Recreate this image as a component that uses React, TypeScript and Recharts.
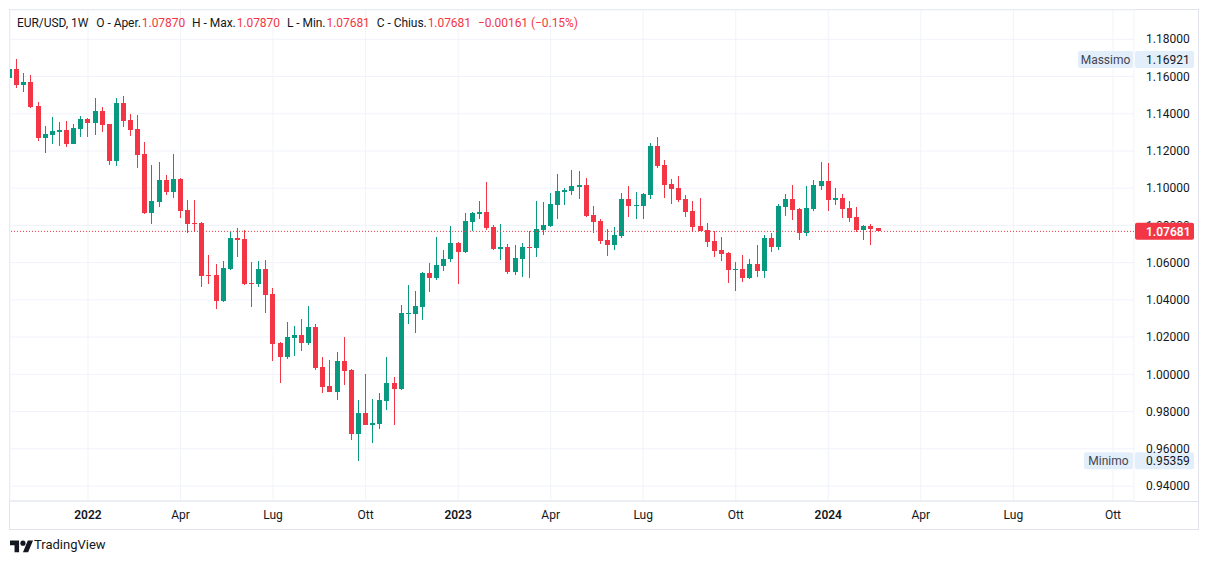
import React from 'react';
import { ComposedChart, Bar, XAxis, YAxis, CartesianGrid, ReferenceLine } from 'recharts';

// Weekly candles EUR/USD, week start (Monday)
const weekStart = [
  '2021-10-18', '2021-10-25', '2021-11-01', '2021-11-08', '2021-11-15', '2021-11-22', '2021-11-29', '2021-12-06', '2021-12-13', '2021-12-20',
  '2021-12-27', '2022-01-03', '2022-01-10', '2022-01-17', '2022-01-24', '2022-01-31', '2022-02-07', '2022-02-14', '2022-02-21', '2022-02-28',
  '2022-03-07', '2022-03-14', '2022-03-21', '2022-03-28', '2022-04-04', '2022-04-11', '2022-04-18', '2022-04-25', '2022-05-02', '2022-05-09',
  '2022-05-16', '2022-05-23', '2022-05-30', '2022-06-06', '2022-06-13', '2022-06-20', '2022-06-27', '2022-07-04', '2022-07-11', '2022-07-18',
  '2022-07-25', '2022-08-01', '2022-08-08', '2022-08-15', '2022-08-22', '2022-08-29', '2022-09-05', '2022-09-12', '2022-09-19', '2022-09-26',
  '2022-10-03', '2022-10-10', '2022-10-17', '2022-10-24', '2022-10-31', '2022-11-07', '2022-11-14', '2022-11-21', '2022-11-28', '2022-12-05',
  '2022-12-12', '2022-12-19', '2022-12-26', '2023-01-02', '2023-01-09', '2023-01-16', '2023-01-23', '2023-01-30', '2023-02-06', '2023-02-13',
  '2023-02-20', '2023-02-27', '2023-03-06', '2023-03-13', '2023-03-20', '2023-03-27', '2023-04-03', '2023-04-10', '2023-04-17', '2023-04-24',
  '2023-05-01', '2023-05-08', '2023-05-15', '2023-05-22', '2023-05-29', '2023-06-05', '2023-06-12', '2023-06-19', '2023-06-26', '2023-07-03',
  '2023-07-10', '2023-07-17', '2023-07-24', '2023-07-31', '2023-08-07', '2023-08-14', '2023-08-21', '2023-08-28', '2023-09-04', '2023-09-11',
  '2023-09-18', '2023-09-25', '2023-10-02', '2023-10-09', '2023-10-16', '2023-10-23', '2023-10-30', '2023-11-06', '2023-11-13', '2023-11-20',
  '2023-11-27', '2023-12-04', '2023-12-11', '2023-12-18', '2023-12-25', '2024-01-01', '2024-01-08', '2024-01-15', '2024-01-22', '2024-01-29',
  '2024-02-05', '2024-02-12', '2024-02-19',
];

const open = [
  1.1592, 1.1639, 1.1555, 1.1569, 1.1440, 1.1270, 1.1286, 1.1302, 1.1311, 1.1238,
  1.1318, 1.1370, 1.1351, 1.1413, 1.1344, 1.1147, 1.1456, 1.1365, 1.1317, 1.1183,
  1.0867, 1.0926, 1.1043, 1.0980, 1.1048, 1.0882, 1.0812, 1.0814, 1.0535, 1.0533,
  1.0395, 1.0567, 1.0732, 1.0726, 1.0492, 1.0486, 1.0567, 1.0433, 1.0169, 1.0094,
  1.0196, 1.0211, 1.0169, 1.0254, 1.0039, 0.9937, 0.9906, 1.0071, 1.0023, 0.9681,
  0.9790, 0.9729, 0.9735, 0.9858, 0.9953, 0.9922, 1.0325, 1.0325, 1.0363, 1.0545,
  1.0518, 1.0581, 1.0619, 1.0705, 1.0656, 1.0819, 1.0862, 1.0871, 1.0791, 1.0674,
  1.0683, 1.0551, 1.0620, 1.0683, 1.0679, 1.0776, 1.0798, 1.0910, 1.0980, 1.0984,
  1.1007, 1.1018, 1.0857, 1.0824, 1.0722, 1.0696, 1.0744, 1.0941, 1.0905, 1.0905,
  1.0964, 1.1226, 1.1125, 1.1023, 1.1002, 1.0941, 1.0877, 1.0796, 1.0775, 1.0717,
  1.0669, 1.0653, 1.0561, 1.0567, 1.0518, 1.0594, 1.0556, 1.0733, 1.0685, 1.0900,
  1.0941, 1.0887, 1.0760, 1.0889, 1.1014, 1.1038, 1.0937, 1.0948, 1.0894, 1.0846,
  1.0776, 1.0798, 1.0787,
];

const high = [
  1.1669, 1.16921, 1.1617, 1.1607, 1.1462, 1.1333, 1.1381, 1.1356, 1.1361, 1.1344,
  1.1388, 1.1376, 1.1483, 1.1435, 1.1346, 1.1483, 1.1494, 1.1397, 1.1392, 1.1249,
  1.1124, 1.1140, 1.1070, 1.1183, 1.1053, 1.0936, 1.0936, 1.0816, 1.0640, 1.0592,
  1.0608, 1.0764, 1.0785, 1.0774, 1.0604, 1.0610, 1.0615, 1.0465, 1.0175, 1.0282,
  1.0261, 1.0297, 1.0366, 1.0270, 1.0093, 1.0078, 1.0121, 1.0200, 1.0030, 0.9862,
  1.0001, 0.9869, 0.9901, 1.0093, 0.9985, 1.0372, 1.0479, 1.0447, 1.0548, 1.0596,
  1.0737, 1.0669, 1.0796, 1.0712, 1.0866, 1.0871, 1.0930, 1.1032, 1.0801, 1.0807,
  1.0701, 1.0694, 1.0705, 1.0769, 1.0930, 1.0925, 1.0973, 1.1075, 1.0999, 1.1097,
  1.1091, 1.1054, 1.0903, 1.0835, 1.0781, 1.0792, 1.0975, 1.1012, 1.0980, 1.0975,
  1.1243, 1.1275, 1.1152, 1.1050, 1.1066, 1.0964, 1.0932, 1.0946, 1.0812, 1.0771,
  1.0737, 1.0658, 1.0604, 1.0642, 1.0620, 1.0696, 1.0749, 1.0760, 1.0916, 1.0969,
  1.1016, 1.0894, 1.1012, 1.1045, 1.1141, 1.1136, 1.1002, 1.0969, 1.0932, 1.0900,
  1.0800, 1.0807, 1.0787,
];

const low = [
  1.1570, 1.1538, 1.1515, 1.1432, 1.1254, 1.1190, 1.1238, 1.1227, 1.1222, 1.1236,
  1.1275, 1.1275, 1.1286, 1.1302, 1.1125, 1.1121, 1.1329, 1.1281, 1.1109, 1.0862,
  1.0808, 1.0900, 1.0966, 1.0948, 1.0841, 1.0760, 1.0765, 1.0470, 1.0485, 1.0352,
  1.0390, 1.0562, 1.0631, 1.0480, 1.0363, 1.0470, 1.0330, 1.0073, 0.9955, 1.0083,
  1.0100, 1.0126, 1.0159, 1.0024, 0.9901, 0.9904, 0.9863, 0.9944, 0.9649, 0.95359,
  0.9727, 0.9633, 0.9708, 0.9810, 0.9729, 0.9917, 1.0271, 1.0223, 1.0293, 1.0443,
  1.0508, 1.0556, 1.0604, 1.0485, 1.0651, 1.0769, 1.0835, 1.0776, 1.0669, 1.0615,
  1.0540, 1.0535, 1.0524, 1.0518, 1.0631, 1.0749, 1.0792, 1.0835, 1.0909, 1.0966,
  1.0943, 1.0846, 1.0760, 1.0701, 1.0637, 1.0669, 1.0733, 1.0846, 1.0835, 1.0835,
  1.0943, 1.1109, 1.0948, 1.0916, 1.0926, 1.0846, 1.0766, 1.0769, 1.0685, 1.0631,
  1.0610, 1.0492, 1.0449, 1.0497, 1.0510, 1.0524, 1.0518, 1.0658, 1.0669, 1.0851,
  1.0830, 1.0722, 1.0744, 1.0880, 1.0991, 1.0878, 1.0910, 1.0841, 1.0819, 1.0765,
  1.0722, 1.0696, 1.07681,
];

const close = [
  1.1639, 1.1555, 1.1571, 1.1437, 1.1270, 1.1290, 1.1306, 1.1313, 1.1238, 1.1322,
  1.1370, 1.1351, 1.1413, 1.1340, 1.1147, 1.1456, 1.1361, 1.1313, 1.1179, 1.0867,
  1.0930, 1.1043, 1.0980, 1.1048, 1.0878, 1.0808, 1.0806, 1.0529, 1.0530, 1.0395,
  1.0570, 1.0732, 1.0722, 1.0486, 1.0486, 1.0567, 1.0427, 1.0164, 1.0094, 1.0202,
  1.0212, 1.0169, 1.0254, 1.0035, 0.9933, 0.9906, 1.0071, 1.0019, 0.9681, 0.9790,
  0.9729, 0.9740, 0.9862, 0.9953, 0.9922, 1.0329, 1.0329, 1.0366, 1.0545, 1.0518,
  1.0587, 1.0619, 1.0705, 1.0658, 1.0823, 1.0866, 1.0871, 1.0787, 1.0674, 1.0683,
  1.0551, 1.0624, 1.0683, 1.0679, 1.0780, 1.0803, 1.0916, 1.0984, 1.0991, 1.1012,
  1.1018, 1.0851, 1.0819, 1.0717, 1.0696, 1.0749, 1.0943, 1.0905, 1.0909, 1.0968,
  1.1226, 1.1120, 1.1018, 1.0996, 1.0937, 1.0873, 1.0792, 1.0771, 1.0712, 1.0663,
  1.0647, 1.0561, 1.0567, 1.0518, 1.0594, 1.0556, 1.0733, 1.0685, 1.0905, 1.0941,
  1.0884, 1.0760, 1.0894, 1.1018, 1.1039, 1.0937, 1.0948, 1.0889, 1.0841, 1.0776,
  1.0798, 1.0782, 1.07681,
];

// time axis labels (first weekly bar of each quarter)
const tickDates = [
  '2022-01-03', '2022-04-04', '2022-07-04', '2022-10-03',
  '2023-01-02', '2023-04-03', '2023-07-03', '2023-10-02',
  '2024-01-01', '2024-04-01', '2024-07-01', '2024-10-07',
];
const tickLabels = ['2022', 'Apr', 'Lug', 'Ott', '2023', 'Apr', 'Lug', 'Ott', '2024', 'Apr', 'Lug', 'Ott'];

const priceTicks = [0.94, 0.96, 0.98, 1.0, 1.02, 1.04, 1.06, 1.08, 1.1, 1.12, 1.14, 1.16, 1.18];

// legend row: label / value pairs
const legendLabels = ['O - Aper.', 'H - Max.', 'L - Min.', 'C - Chius.'];
const legendValues = ['1.07870', '1.07870', '1.07681', '1.07681'];
const legendChange = '\u22120.00161 (\u22120.15%)';

const GREEN = '#089981';
const RED = '#f23645';
const TEXT = '#131722';
const FONT = 'Roboto, "Noto Sans", sans-serif';

const WEEK = 7 * 24 * 3600 * 1000;
const ORIGIN = Date.parse('2021-10-25');
const toWeek = (d: string) => Math.round((Date.parse(d) - ORIGIN) / WEEK);

const data = weekStart.map((d, i) => ({
  x: toWeek(d),
  open: open[i],
  high: high[i],
  low: low[i],
  close: close[i],
}));

const tickWeeks = tickDates.map(toWeek);
const lastClose = close[close.length - 1];
const maxHigh = Math.max(...high);
const minLow = Math.min(...low);

const X_DOMAIN = [-0.955, 156.95];
const Y_DOMAIN = [0.93194, 1.19574];
const PLOT_H = 491;
const PX_PER_UNIT = PLOT_H / (Y_DOMAIN[1] - Y_DOMAIN[0]);

const Candle = (props: any) => {
  const { x, y, width, height, payload } = props;
  if (x == null || y == null || !payload) return null;
  const { open: o, close: c, high: h, low: l } = payload;
  const top = Math.min(y, y + height);
  const span = Math.abs(height);
  const k = h > l ? span / (h - l) : 0;
  const py = (v: number) => top + (h - v) * k;
  const color = c >= o ? GREEN : RED;
  const left = Math.round(x);
  const bTop = Math.round(py(Math.max(o, c)));
  const bBot = Math.round(py(Math.min(o, c)));
  return (
    <g>
      <line x1={left + 2.5} x2={left + 2.5} y1={Math.round(top)} y2={Math.round(top + span)} stroke={color} strokeWidth={1} />
      <rect x={left} y={bTop} width={5} height={Math.max(1, bBot - bTop)} fill={color} />
    </g>
  );
};

const TimeTick = (props: any) => {
  const { x, y, payload } = props;
  const label = tickLabels[tickWeeks.indexOf(payload.value)] ?? '';
  const isYear = /^\d{4}$/.test(label);
  return (
    <text x={x} y={y + 18} textAnchor="middle" fontSize={12} fontFamily={FONT} fill={TEXT} fontWeight={isYear ? 600 : 400}>
      {label}
    </text>
  );
};

// price label; the part hidden under the last-price tag is clipped away
const PriceTick = (props: any) => {
  const { x, y, payload, index } = props;
  const v = payload.value as number;
  const tagY = y + (v - lastClose) * PX_PER_UNIT;
  const covered = Math.abs(tagY - y) < 17;
  const id = `ptclip-${index}`;
  return (
    <g>
      {covered && (
        <defs>
          <clipPath id={id}>
            <rect x={x - 5} y={y - 20} width={80} height={Math.max(0, tagY - 8.5 - (y - 20))} />
          </clipPath>
        </defs>
      )}
      <text
        x={x}
        y={y}
        dy="0.35em"
        fontSize={12}
        fontFamily={FONT}
        fill={TEXT}
        clipPath={covered ? `url(#${id})` : undefined}
      >
        {v.toFixed(5)}
      </text>
    </g>
  );
};

const sideTag = (name: string, value: number, boxW: number) => (props: any) => {
  const vb = props.viewBox;
  if (!vb) return null;
  const right = vb.x + vb.width;
  const cy = vb.y;
  return (
    <g>
      <rect x={right - boxW - 1} y={cy - 8.5} width={boxW} height={17} rx={2} fill="#e3eefb" />
      <text x={right - 1 - boxW / 2} y={cy} dy="0.35em" textAnchor="middle" fontSize={12} fontFamily={FONT} fill="#434651">
        {name}
      </text>
      <rect x={right + 1} y={cy - 8.5} width={59} height={17} rx={2} fill="#e3eefb" />
      <text x={right + 12} y={cy} dy="0.35em" fontSize={12} fontFamily={FONT} fill={TEXT}>
        {value.toFixed(5)}
      </text>
    </g>
  );
};

const priceTag = (props: any) => {
  const vb = props.viewBox;
  if (!vb) return null;
  const right = vb.x + vb.width;
  const cy = vb.y;
  return (
    <g>
      <rect x={right + 1} y={cy - 8.5} width={59} height={17} rx={2} fill={RED} />
      <text x={right + 12} y={cy} dy="0.35em" fontSize={12} fontWeight={600} fontFamily={FONT} fill="#ffffff">
        {lastClose.toFixed(5)}
      </text>
    </g>
  );
};

export default function App() {
  return (
    <div style={{ position: 'absolute', left: 0, top: 0, width: 1209, height: 564, background: '#ffffff', fontFamily: FONT }}>
      <div
        style={{
          position: 'absolute',
          left: 9,
          top: 9,
          width: 1190,
          height: 521,
          border: '1px solid #e0e3eb',
          boxSizing: 'border-box',
        }}
      />
      <div style={{ position: 'absolute', left: 1134, top: 501, width: 64, height: 1, background: '#e0e3eb' }} />
      <div style={{ position: 'absolute', left: 0, top: 0 }}>
        <ComposedChart width={1209} height={564} data={data} margin={{ top: 10, right: 11, bottom: 35, left: 10 }}>
          <CartesianGrid stroke="#f0f3fa" />
          <XAxis
            type="number"
            dataKey="x"
            domain={X_DOMAIN}
            allowDataOverflow
            ticks={tickWeeks}
            interval={0}
            tick={<TimeTick />}
            tickLine={false}
            tickSize={0}
            tickMargin={0}
            axisLine={{ stroke: '#e0e3eb' }}
            height={28}
          />
          <YAxis
            orientation="right"
            type="number"
            domain={Y_DOMAIN}
            allowDataOverflow
            ticks={priceTicks}
            interval={0}
            tick={<PriceTick />}
            tickLine={false}
            tickSize={0}
            tickMargin={12}
            axisLine={false}
            width={64}
          />
          <Bar
            dataKey={(d: any) => [d.low, d.high]}
            barSize={5}
            shape={(p: any) => <Candle {...p} />}
            isAnimationActive={false}
          />
          <ReferenceLine y={maxHigh} stroke="none" label={sideTag('Massimo', maxHigh, 55)} />
          <ReferenceLine y={minLow} stroke="none" label={sideTag('Minimo', minLow, 49)} />
          <ReferenceLine y={lastClose} stroke={RED} strokeDasharray="1 2" label={priceTag} />
        </ComposedChart>
      </div>
      <div
        style={{
          position: 'absolute',
          left: 17,
          top: 16,
          height: 16,
          fontSize: 12,
          letterSpacing: -0.05,
          whiteSpace: 'nowrap',
          display: 'flex',
          color: TEXT,
        }}
      >
        <span style={{ marginRight: 8 }}>EUR/USD, 1W</span>
        {legendLabels.map((lab, i) => (
          <span key={i} style={{ marginRight: 7 }}>
            {lab}
            <span style={{ color: RED, marginLeft: 1 }}>{legendValues[i]}</span>
          </span>
        ))}
        <span style={{ color: RED }}>{legendChange}</span>
      </div>
      <svg style={{ position: 'absolute', left: 10, top: 538 }} width={24} height={18} viewBox="0 0 40 30">
        <path d="M14 22H7V11H0V4h14v18zM28 22h-8l7.5-18h8L28 22z" fill={TEXT} transform="scale(1.08)" />
        <circle cx={21.6} cy={8.6} r={4.3} fill={TEXT} />
      </svg>
      <div style={{ position: 'absolute', left: 34, top: 537, fontSize: 13, color: TEXT }}>TradingView</div>
    </div>
  );
}
